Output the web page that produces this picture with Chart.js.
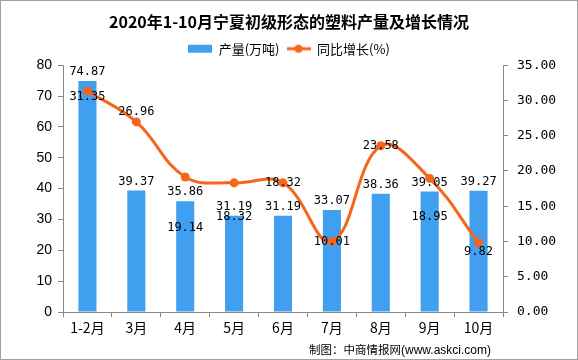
<!DOCTYPE html>
<html>
<head>
<meta charset="utf-8">
<script src="https://cdn.jsdelivr.net/npm/chart.js@4.4.1/dist/chart.umd.min.js"></script>
<style>
  html, body { margin: 0; padding: 0; background: #fff; }
  #wrap { position: relative; width: 578px; height: 360px; box-sizing: border-box; border: 1px solid #a0a0a0; }
  #c { position: absolute; left: -1px; top: -1px; }
  #src { position: absolute; right: 86px; top: 340px; font: 11.5px "Noto Sans CJK SC", sans-serif; color: #000; }
  #src span { font-family: "Liberation Sans", sans-serif; font-size: 12px; }
</style>
</head>
<body>
<div id="wrap">
  <canvas id="c" width="578" height="360"></canvas>
  <div id="src">制图：中商情报网<span>(www.askci.com)</span></div>
</div>
<script>
const months = ['1-2月', '3月', '4月', '5月', '6月', '7月', '8月', '9月', '10月'];
const output = [74.87, 39.37, 35.86, 31.19, 31.19, 33.07, 38.36, 39.05, 39.27];
const growth = [31.35, 26.96, 19.14, 18.32, 18.32, 10.01, 23.58, 18.95, 9.82];

// where the growth labels sit relative to their point (px)
const growthLabelDy = [6, -10, 51, 34, 0, 0, 0, 38, 9];

const barColor = '#419ff0';
const lineColor = '#f4661b';
const monoFont = '"DejaVu Sans Mono", monospace';

// legend markers: a bar swatch and a line with a dot
function marker(kind) {
    const cv = document.createElement('canvas');
    cv.width = 24; cv.height = 10;
    const g = cv.getContext('2d');
    if (kind === 'bar') {
        g.fillStyle = barColor;
        g.fillRect(0, 1, 24, 8);
    } else {
        g.strokeStyle = lineColor;
        g.lineWidth = 3;
        g.beginPath(); g.moveTo(0, 5); g.lineTo(24, 5); g.stroke();
        g.fillStyle = lineColor;
        g.beginPath(); g.arc(12, 5, 4, 0, Math.PI * 2); g.fill();
    }
    return cv;
}

const dataLabels = {
    id: 'dataLabels',
    afterDatasetsDraw(chart) {
        const ctx = chart.ctx;
        ctx.save();
        ctx.font = '12px ' + monoFont;
        ctx.fillStyle = '#000';
        ctx.textAlign = 'center';
        ctx.textBaseline = 'middle';
        chart.getDatasetMeta(0).data.forEach((el, i) => {
            ctx.fillText(output[i].toFixed(2), el.x, el.y - 9);
        });
        chart.getDatasetMeta(1).data.forEach((el, i) => {
            ctx.fillText(growth[i].toFixed(2), el.x, el.y + growthLabelDy[i]);
        });
        ctx.restore();
    }
};

new Chart(document.getElementById('c'), {
    type: 'bar',
    data: {
        labels: months,
        datasets: [
            {
                label: '产量(万吨)',
                data: output,
                backgroundColor: barColor,
                barPercentage: 0.37,
                categoryPercentage: 1,
                yAxisID: 'y',
                order: 1,
            },
            {
                type: 'line',
                label: '同比增长(%)',
                data: growth,
                borderColor: lineColor,
                backgroundColor: lineColor,
                borderWidth: 3,
                pointRadius: 4.5,
                pointBackgroundColor: lineColor,
                pointBorderWidth: 0,
                tension: 0.4,
                yAxisID: 'y1',
                order: 0,
            },
        ],
    },
    options: {
        responsive: false,
        animation: false,
        layout: { padding: { left: 0, right: 0, top: 0, bottom: 0 } },
        plugins: {
            title: {
                display: true,
                text: '2020年1-10月宁夏初级形态的塑料产量及增长情况',
                color: '#000',
                font: { family: '"Noto Sans CJK SC", sans-serif', size: 16, weight: 'bold' },
                padding: { top: 12, bottom: 4 },
            },
            legend: {
                display: true,
                labels: {
                    color: '#000',
                    font: { family: '"Noto Sans CJK SC", sans-serif', size: 13 },
                    usePointStyle: true,
                    pointStyleWidth: 24,
                    boxHeight: 10,
                    padding: 7,
                    generateLabels: () => [
                        { text: '产量(万吨)', pointStyle: marker('bar'), fillStyle: barColor, strokeStyle: barColor, lineWidth: 0, datasetIndex: 0 },
                        { text: '同比增长(%)', pointStyle: marker('line'), fillStyle: lineColor, strokeStyle: lineColor, lineWidth: 0, datasetIndex: 1 },
                    ],
                },
            },
            tooltip: { enabled: false },
        },
        scales: {
            x: {
                grid: { display: true, drawOnChartArea: false, offset: true, tickLength: 5, color: '#888' },
                border: { color: '#888' },
                ticks: { color: '#000', font: { family: '"Noto Sans CJK SC", sans-serif', size: 14 }, padding: 2, maxRotation: 0 },
                afterFit: s => { s.height = 48; },
            },
            y: {
                position: 'left',
                min: 0, max: 80,
                ticks: { stepSize: 10, color: '#000', font: { family: '"Liberation Sans", sans-serif', size: 14 }, padding: 6 },
                grid: { drawOnChartArea: false, tickLength: 5, color: '#888' },
                border: { color: '#888' },
                afterFit: s => { s.width = 63; },
            },
            y1: {
                position: 'right',
                min: 0, max: 35,
                ticks: { stepSize: 5, color: '#000', font: { family: monoFont, size: 13 }, padding: 9, callback: v => v.toFixed(2) },
                grid: { drawOnChartArea: false, tickLength: 5, color: '#888' },
                border: { color: '#888' },
                afterFit: s => { s.width = 75; },
            },
        },
    },
    plugins: [dataLabels],
});
</script>
</body>
</html>
